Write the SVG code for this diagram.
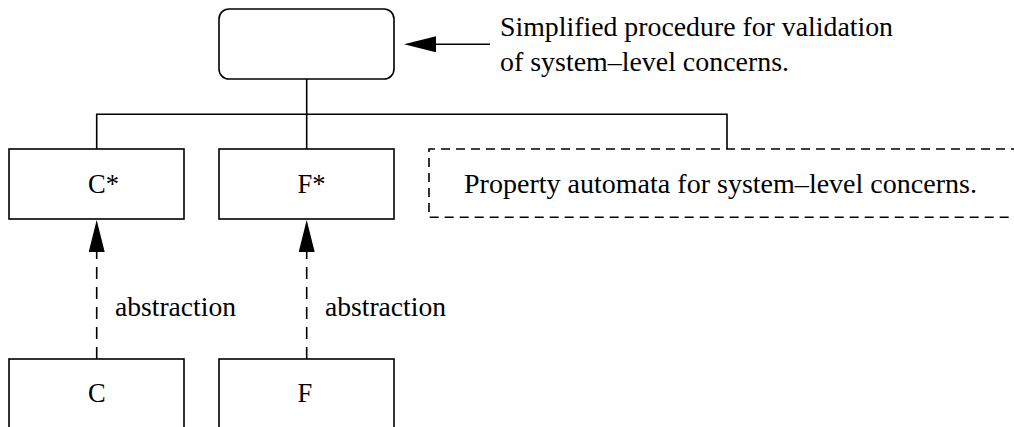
<svg xmlns="http://www.w3.org/2000/svg" width="1014" height="427" viewBox="0 0 1014 427">
  <defs>
    <style>
      .box { fill: #fff; stroke: #000; stroke-width: 1.6; }
      .dbox { fill: none; stroke: #000; stroke-width: 1.6; stroke-dasharray: 9 6; }
      .line { fill: none; stroke: #000; stroke-width: 1.6; }
      .dline { fill: none; stroke: #000; stroke-width: 1.6; stroke-dasharray: 12 8; }
      .lbl { font-family: 'Liberation Serif', 'Times New Roman', serif; font-size: 26.5px; fill: #000; }
    </style>
    <!-- filled arrowhead; its base sits at the end of the line -->
    <marker id="head" viewBox="0 0 32 16" markerWidth="32" markerHeight="16" refX="0" refY="8" markerUnits="userSpaceOnUse" orient="auto">
      <path d="M0,0 L32,8 L0,16 Z" fill="#000"/>
    </marker>
  </defs>

  <rect width="1014" height="427" fill="#fff"/>

  <!-- connectors -->
  <g id="connectors">
    <path class="line" d="M306.7,79 V149"/>
    <path class="line" d="M96.7,149 V114.3 H727 V149"/>
    <path class="line" d="M490,44.3 H436" marker-end="url(#head)"/>
    <path class="dline" d="M96.7,359 V252" marker-end="url(#head)"/>
    <path class="dline" d="M306.7,359 V252" marker-end="url(#head)"/>
  </g>

  <g id="procedure">
    <rect class="box" x="219" y="9" width="175" height="70" rx="10"/>
  </g>
  <g id="procedure-note" class="lbl">
    <text x="500" y="36.3" textLength="393" lengthAdjust="spacingAndGlyphs">Simplified procedure for validation</text>
    <text x="500" y="70.5" textLength="289" lengthAdjust="spacingAndGlyphs">of system–level concerns.</text>
  </g>

  <g id="c-star">
    <rect class="box" x="9" y="149" width="175" height="70"/>
    <text class="lbl" x="88" y="193.3">C*</text>
  </g>
  <g id="f-star">
    <rect class="box" x="219" y="149" width="175" height="70"/>
    <text class="lbl" x="297.5" y="193.3">F*</text>
  </g>
  <g id="property-automata">
    <path class="dbox" d="M1020,149 H429 V217.3 H1020"/>
    <text class="lbl" x="464" y="193.3" textLength="513" lengthAdjust="spacingAndGlyphs">Property automata for system–level concerns.</text>
  </g>

  <g id="abstraction-labels" class="lbl">
    <text x="115" y="316" textLength="121" lengthAdjust="spacingAndGlyphs">abstraction</text>
    <text x="325" y="316" textLength="121" lengthAdjust="spacingAndGlyphs">abstraction</text>
  </g>

  <g id="c">
    <rect class="box" x="9" y="359" width="175" height="80"/>
    <text class="lbl" x="88" y="401.7">C</text>
  </g>
  <g id="f">
    <rect class="box" x="219" y="359" width="175" height="80"/>
    <text class="lbl" x="297.5" y="401.7">F</text>
  </g>
</svg>
